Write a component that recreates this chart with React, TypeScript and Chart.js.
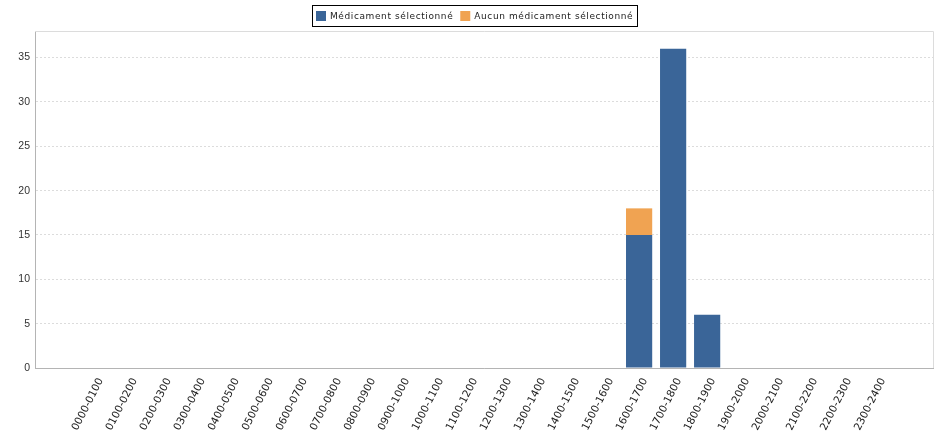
import React, { useEffect, useRef } from "react";
import { Chart, registerables } from "chart.js";

Chart.register(...registerables);

const categories = [
  "0000-0100", "0100-0200", "0200-0300", "0300-0400", "0400-0500", "0500-0600",
  "0600-0700", "0700-0800", "0800-0900", "0900-1000", "1000-1100", "1100-1200",
  "1200-1300", "1300-1400", "1400-1500", "1500-1600", "1600-1700", "1700-1800",
  "1800-1900", "1900-2000", "2000-2100", "2100-2200", "2200-2300", "2300-2400",
];
const selectedValues = [0, 0, 0, 0, 0, 0, 0, 0, 0, 0, 0, 0, 0, 0, 0, 0, 15, 36, 6, 0, 0, 0, 0, 0];
const noneValues = [0, 0, 0, 0, 0, 0, 0, 0, 0, 0, 0, 0, 0, 0, 0, 0, 3, 0, 0, 0, 0, 0, 0, 0];
const seriesNames = ["Médicament sélectionné", "Aucun médicament sélectionné"];
const yTicks = [0, 5, 10, 15, 20, 25, 30, 35];

const BLUE = "#3a6598";
const ORANGE = "#f0a352";

const framePlugin = {
  id: "frame",
  afterDatasetsDraw(chart: any) {
    const { ctx, chartArea } = chart;
    ctx.save();
    ctx.strokeStyle = "#dcdcdc";
    ctx.lineWidth = 1;
    ctx.beginPath();
    ctx.moveTo(chartArea.left, chartArea.top + 0.5);
    ctx.lineTo(chartArea.right + 0.5, chartArea.top + 0.5);
    ctx.lineTo(chartArea.right + 0.5, chartArea.bottom);
    ctx.stroke();
    ctx.restore();
  },
  afterDraw(chart: any) {
    const { ctx } = chart;
    const ds = chart.data.datasets;
    ctx.save();
    ctx.font = "9px 'DejaVu Sans'";
    (ctx as any).letterSpacing = "0.6px";
    ctx.textBaseline = "middle";
    const box = 10;
    const gap = 4;
    const itemGap = 7;
    const widths = ds.map((d: any) => ctx.measureText(d.label).width);
    const total = widths.reduce((a: number, w: number) => a + box + gap + w, 0) + itemGap * (ds.length - 1);
    const padX = 4;
    const cx = 475;
    const left = Math.round(cx - total / 2 - padX);
    const top = 5.5;
    const h = 21;
    ctx.strokeStyle = "#000";
    ctx.lineWidth = 1;
    ctx.strokeRect(left + 0.5, top, Math.round(total + padX * 2), h);
    let x = left + padX;
    const cy = top + h / 2;
    ds.forEach((d: any, i: number) => {
      ctx.fillStyle = d.backgroundColor;
      ctx.fillRect(x, cy - box / 2, box, box);
      x += box + gap;
      ctx.fillStyle = "#222";
      ctx.fillText(d.label, x, cy + 0.5);
      x += widths[i] + itemGap;
    });
    ctx.restore();
  },
};

export default function App() {
  const ref = useRef<HTMLCanvasElement>(null);
  useEffect(() => {
    if (!ref.current) return;
    const chart = new Chart(ref.current, {
      type: "bar",
      data: {
        datasets: [
          {
            label: seriesNames[0],
            data: selectedValues.map((v, i) => ({ x: i, y: v })),
            backgroundColor: BLUE,
            borderWidth: 0,
          },
          {
            label: seriesNames[1],
            data: noneValues.map((v, i) => ({ x: i, y: v })),
            backgroundColor: ORANGE,
            borderWidth: 0,
          },
        ] as any,
      },
      plugins: [framePlugin],
      options: {
        animation: false,
        responsive: false,
        maintainAspectRatio: false,
        layout: { padding: { top: 31, right: 5, left: 0, bottom: 0 } },
        datasets: { bar: { barPercentage: 0.77, categoryPercentage: 1 } } as any,
        plugins: {
          legend: { display: false },
          tooltip: { enabled: false },
        },
        scales: {
          x: {
            type: "linear",
            stacked: true,
            offset: false,
            min: -1.76,
            max: 24.64,
            afterBuildTicks: (s: any) => {
              s.ticks = categories.map((_, i) => ({ value: i }));
            },
            afterFit: (s: any) => {
              s.height = 70;
            },
            grid: { display: false, drawTicks: false },
            border: { display: true, color: "#b4b4b4", width: 1 },
            ticks: {
              autoSkip: false,
              minRotation: 63,
              maxRotation: 63,
              padding: 8,
              labelOffset: 6,
              color: "#222",
              font: { family: "'DejaVu Sans'", size: 10.5 },
              callback: (v: any) => categories[v as number] ?? "",
            },
          },
          y: {
            stacked: true,
            min: 0,
            max: 38,
            afterBuildTicks: (s: any) => {
              s.ticks = yTicks.map((v) => ({ value: v }));
            },
            afterFit: (s: any) => {
              s.width = 35;
            },
            grid: {
              color: "#dcdcdc",
              drawTicks: false,
            },
            border: { display: true, color: "#b4b4b4", width: 1, dash: [2, 2] } as any,
            ticks: {
              padding: 5,
              color: "#333",
              font: { family: "'Liberation Sans'", size: 10.5 },
            },
          },
        },
      },
    });
    return () => chart.destroy();
  }, []);
  return (
    <div style={{ position: "absolute", left: 0, top: 0, width: 938, height: 438 }}>
      <canvas ref={ref} width={938} height={438} style={{ width: 938, height: 438 }} />
    </div>
  );
}
